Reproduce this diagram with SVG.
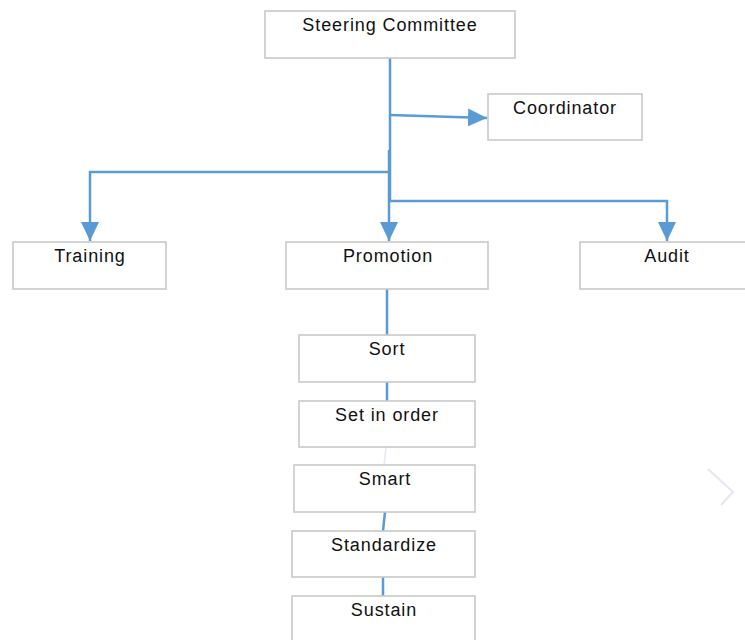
<svg xmlns="http://www.w3.org/2000/svg" width="745" height="640" viewBox="0 0 745 640">
<style>
.box{fill:#fff;stroke:#c9c9c9;stroke-width:1.6}
.lbl{font-family:"Liberation Sans",Arial,sans-serif;font-size:18px;fill:#111;text-anchor:middle;letter-spacing:0.9px}
.c{fill:none;stroke:#5b9bd5;stroke-width:2.5}
</style>
<defs>
<marker id="ah" markerUnits="userSpaceOnUse" markerWidth="20" markerHeight="20" viewBox="0 0 20 20" refX="19" refY="10" orient="auto">
<path d="M0,1 L19,10 L0,19 Z" fill="#5b9bd5"/>
</marker>
</defs>
<rect width="745" height="640" fill="#fff"/>
<g id="connectors">
<path class="c" d="M390,58 V201"/>
<path class="c" d="M390,115 L487,118" marker-end="url(#ah)"/>
<path class="c" d="M390,172 H90 V241" marker-end="url(#ah)"/>
<path class="c" d="M389,150 V241" marker-end="url(#ah)"/>
<path class="c" d="M390,201 H667 V241" marker-end="url(#ah)"/>
<path class="c" d="M387,289 V335"/>
<path class="c" d="M387,382 V401"/>
<path d="M386,447 L384,465" fill="none" stroke="#e3e9f1" stroke-width="1.5"/>
<path class="c" d="M385,512 L383,531"/>
<path class="c" d="M383,577 V596"/>
</g>
<g id="steering"><rect class="box" x="265" y="11" width="250" height="47"/><text class="lbl" x="390" y="31">Steering Committee</text></g>
<g id="coordinator"><rect class="box" x="488" y="94" width="154" height="46"/><text class="lbl" x="565" y="114">Coordinator</text></g>
<g id="training"><rect class="box" x="13" y="242" width="153" height="47"/><text class="lbl" x="90" y="262">Training</text></g>
<g id="promotion"><rect class="box" x="286" y="242" width="202" height="47"/><text class="lbl" x="388" y="262">Promotion</text></g>
<g id="audit"><rect class="box" x="580" y="242" width="174" height="47"/><text class="lbl" x="667" y="262">Audit</text></g>
<g id="sort"><rect class="box" x="299" y="335" width="176" height="47"/><text class="lbl" x="387" y="355">Sort</text></g>
<g id="setinorder"><rect class="box" x="299" y="401" width="176" height="46"/><text class="lbl" x="387" y="421">Set in order</text></g>
<g id="smart"><rect class="box" x="294" y="465" width="181" height="47"/><text class="lbl" x="385" y="485">Smart</text></g>
<g id="standardize"><rect class="box" x="292" y="531" width="183" height="46"/><text class="lbl" x="384" y="551">Standardize</text></g>
<g id="sustain"><rect class="box" x="292" y="596" width="183" height="60"/><text class="lbl" x="384" y="616">Sustain</text></g>
<polyline points="708,469 733,492 721,505" fill="none" stroke="#e4e7ef" stroke-width="2"/>
</svg>
